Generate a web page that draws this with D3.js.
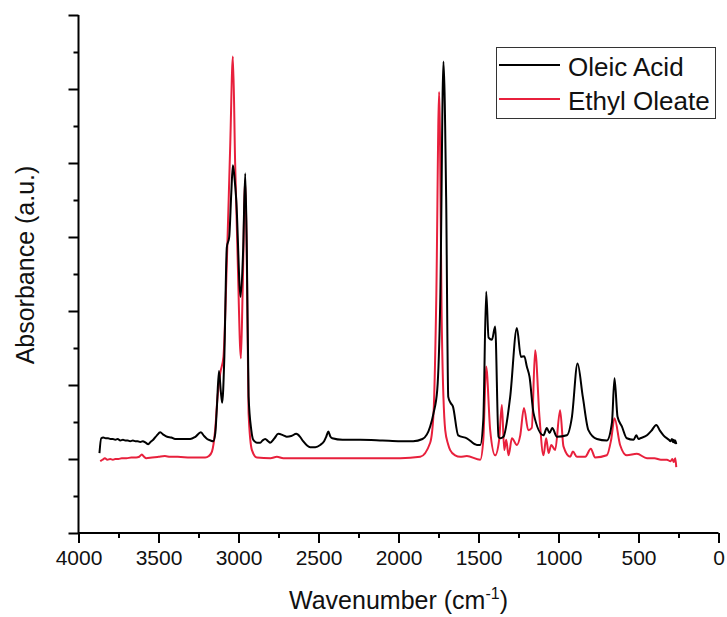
<!DOCTYPE html>
<html>
<head>
<meta charset="utf-8">
<script src="https://cdn.jsdelivr.net/npm/d3@7"></script>
<style>
  html, body { margin: 0; padding: 0; background: #fff; }
  svg { display: block; font-family: "Liberation Sans", Arial, sans-serif; }
</style>
</head>
<body>
<svg id="chart" width="727" height="617"></svg>
<script>
// ---- Data (wavenumber cm^-1, absorbance a.u.) ----
const oleicWavenumber = [3869,3858,3845,3830,3815,3800,3785,3770,3755,3739,3722,3708,3692,3677,3660,3645,3630,3614,3598,3580,3564,3550,3533,3510,3489,3470,3446,3420,3396,3350,3302,3270,3235,3215,3196,3175,3158,3145,3135,3122,3110,3102,3089,3073,3058,3045,3035,3025,3014,2987,2971,2958,2948,2937,2920,2908,2885,2864,2850,2833,2815,2802,2775,2752,2720,2698,2670,2639,2615,2596,2552,2520,2489,2465,2452,2439,2425,2414,2350,2239,2100,1989,1908,1850,1802,1781,1758,1739,1719,1702,1689,1675,1660,1627,1573,1510,1489,1470,1452,1437,1416,1396,1375,1364,1344,1302,1260,1235,1214,1198,1181,1156,1094,1073,1056,1039,1010,948,916,881,848,813,760,698,666,650,631,604,573,531,514,500,489,447,420,389,365,344,310,300,291,285,280,275,270,264];
const oleicAbsorbance = [1.08,1.28,1.29,1.28,1.28,1.27,1.27,1.26,1.27,1.25,1.26,1.25,1.25,1.24,1.25,1.24,1.24,1.23,1.24,1.22,1.20,1.23,1.26,1.32,1.36,1.33,1.30,1.29,1.27,1.27,1.27,1.30,1.36,1.31,1.27,1.25,1.24,1.35,1.70,2.19,1.90,1.76,2.34,3.86,4.00,4.60,4.97,4.80,4.50,3.19,3.82,4.86,3.82,1.85,1.39,1.26,1.22,1.22,1.25,1.27,1.24,1.22,1.28,1.34,1.32,1.30,1.31,1.34,1.30,1.24,1.16,1.16,1.19,1.24,1.30,1.37,1.30,1.28,1.26,1.26,1.25,1.24,1.24,1.27,1.44,1.62,1.93,3.15,6.37,4.50,1.84,1.76,1.71,1.32,1.28,1.19,1.19,1.53,3.26,2.64,2.61,2.79,1.30,1.28,1.30,1.84,2.77,2.38,2.39,2.25,2.11,1.62,1.32,1.42,1.35,1.42,1.30,1.32,1.57,2.29,1.84,1.39,1.27,1.25,1.49,2.09,1.57,1.44,1.28,1.26,1.32,1.27,1.28,1.32,1.38,1.46,1.38,1.32,1.26,1.24,1.27,1.23,1.26,1.22,1.25,1.20];

const oleateWavenumber = [3864,3850,3835,3820,3802,3785,3770,3750,3730,3700,3670,3640,3620,3604,3590,3577,3540,3500,3460,3427,3380,3300,3239,3208,3185,3166,3146,3131,3114,3094,3073,3052,3035,3021,3005,2985,2974,2958,2948,2937,2916,2885,2800,2760,2720,2677,2500,2302,1989,1864,1802,1781,1764,1746,1729,1708,1690,1677,1646,1614,1573,1489,1470,1452,1427,1396,1371,1354,1339,1327,1312,1291,1260,1239,1216,1189,1167,1146,1119,1094,1077,1062,1045,1021,990,969,927,910,885,833,798,771,698,671,650,615,573,510,447,400,360,322,300,289,280,270,264];
const oleateAbsorbance = [0.97,0.99,1.01,0.99,1.00,0.99,1.00,1.00,1.01,1.01,1.02,1.02,1.03,1.06,1.03,1.01,1.02,1.03,1.04,1.03,1.03,1.02,1.02,1.02,1.04,1.10,1.39,1.84,2.16,2.38,3.65,5.22,6.44,5.00,3.69,2.36,3.28,4.77,3.69,1.62,1.12,1.02,1.01,1.03,1.01,1.01,1.01,1.01,1.01,1.03,1.22,1.62,3.15,5.96,2.74,1.39,1.20,1.12,1.05,1.03,1.04,0.99,1.26,2.25,1.39,1.05,1.26,1.73,1.12,1.26,1.05,1.28,1.19,1.32,1.69,1.39,1.42,2.47,1.57,1.05,1.28,1.08,1.19,1.12,1.66,1.17,1.03,1.10,1.03,1.03,1.14,1.02,1.05,1.26,1.55,1.19,1.05,1.07,1.01,1.01,0.99,0.99,0.97,1.00,0.96,1.01,0.89];

const seriesNames = ["Oleic Acid", "Ethyl Oleate"];
const seriesColors = ["#000000", "#e8203c"];
const xTickValues = [4000,3500,3000,2500,2000,1500,1000,500,0];
const xMinorTicks = [3750,3250,2750,2250,1750,1250,750,250];
const yTickValues = [0,1,2,3,4,5,6,7];
const yMinorTicks = [0.5,1.5,2.5,3.5,4.5,5.5,6.5];

// ---- Layout ----
const svg = d3.select("#chart");
const mLeft = 78.5, mRight = 718.5, mTop = 15, mBottom = 533;

const x = d3.scaleLinear().domain([4000, 0]).range([mLeft, mRight]);
const y = d3.scaleLinear().domain([0, 7]).range([mBottom, mTop]);

const line = d3.line().x(d => x(d[0])).y(d => y(d[1])).curve(d3.curveMonotoneX);

const oleic = oleicWavenumber.map((w, i) => [w, oleicAbsorbance[i]]);
const oleate = oleateWavenumber.map((w, i) => [w, oleateAbsorbance[i]]);

// red first, black on top
svg.append("path").datum(oleate)
  .attr("d", line).attr("fill", "none")
  .attr("stroke", seriesColors[1]).attr("stroke-width", 2)
  .attr("stroke-linejoin", "round");
svg.append("path").datum(oleic)
  .attr("d", line).attr("fill", "none")
  .attr("stroke", seriesColors[0]).attr("stroke-width", 2)
  .attr("stroke-linejoin", "round");

// ---- Axes ----
const xAxis = svg.append("g").attr("transform", `translate(0,${mBottom})`)
  .call(d3.axisBottom(x).tickValues(xTickValues).tickSize(10).tickPadding(7)
    .tickFormat(d3.format("d")));
svg.append("g").attr("transform", `translate(0,${mBottom})`)
  .call(d3.axisBottom(x).tickValues(xMinorTicks).tickSize(5).tickFormat(""))
  .call(g => g.select(".domain").remove());

const yAxis = svg.append("g").attr("transform", `translate(${mLeft},0)`)
  .call(d3.axisLeft(y).tickValues(yTickValues).tickSize(10).tickFormat(""));
svg.append("g").attr("transform", `translate(${mLeft},0)`)
  .call(d3.axisLeft(y).tickValues(yMinorTicks).tickSize(5).tickFormat(""))
  .call(g => g.select(".domain").remove());

svg.selectAll(".domain").attr("stroke", "#000").attr("stroke-width", 2);
svg.selectAll(".tick line").attr("stroke", "#000").attr("stroke-width", 2);
xAxis.selectAll(".domain").attr("d", `M${mLeft},0H${mRight}`);
yAxis.selectAll(".domain").attr("d", `M0,${mBottom}V${mTop}`);
xAxis.selectAll(".tick text")
  .attr("font-size", 21).attr("fill", "#111")
  .attr("font-family", "'Liberation Sans', Arial, sans-serif");

// ---- Axis titles ----
const xt = svg.append("text")
  .attr("x", (mLeft + mRight) / 2).attr("y", 609)
  .attr("text-anchor", "middle").attr("font-size", 25).attr("fill", "#111");
xt.append("tspan").text("Wavenumber (cm");
xt.append("tspan").attr("font-size", 16).attr("dy", -10).text("-1");
xt.append("tspan").attr("dy", 10).text(")");

svg.append("text")
  .attr("transform", `translate(34,${(mTop + mBottom) / 2 - 9}) rotate(-90)`)
  .attr("text-anchor", "middle").attr("font-size", 25).attr("fill", "#111")
  .text("Absorbance (a.u.)");

// ---- Legend ----
const lg = svg.append("g");
lg.append("rect").attr("x", 496.5).attr("y", 47.5).attr("width", 219).attr("height", 71)
  .attr("fill", "#fff").attr("stroke", "#333").attr("stroke-width", 1);
seriesNames.forEach((name, i) => {
  const yy = 65 + i * 34;
  lg.append("line").attr("x1", 499).attr("x2", 560).attr("y1", yy).attr("y2", yy)
    .attr("stroke", seriesColors[i]).attr("stroke-width", 2);
  lg.append("text").attr("x", 568).attr("y", yy + 11)
    .attr("font-size", 26).attr("fill", "#111").text(name);
});
</script>
</body>
</html>
